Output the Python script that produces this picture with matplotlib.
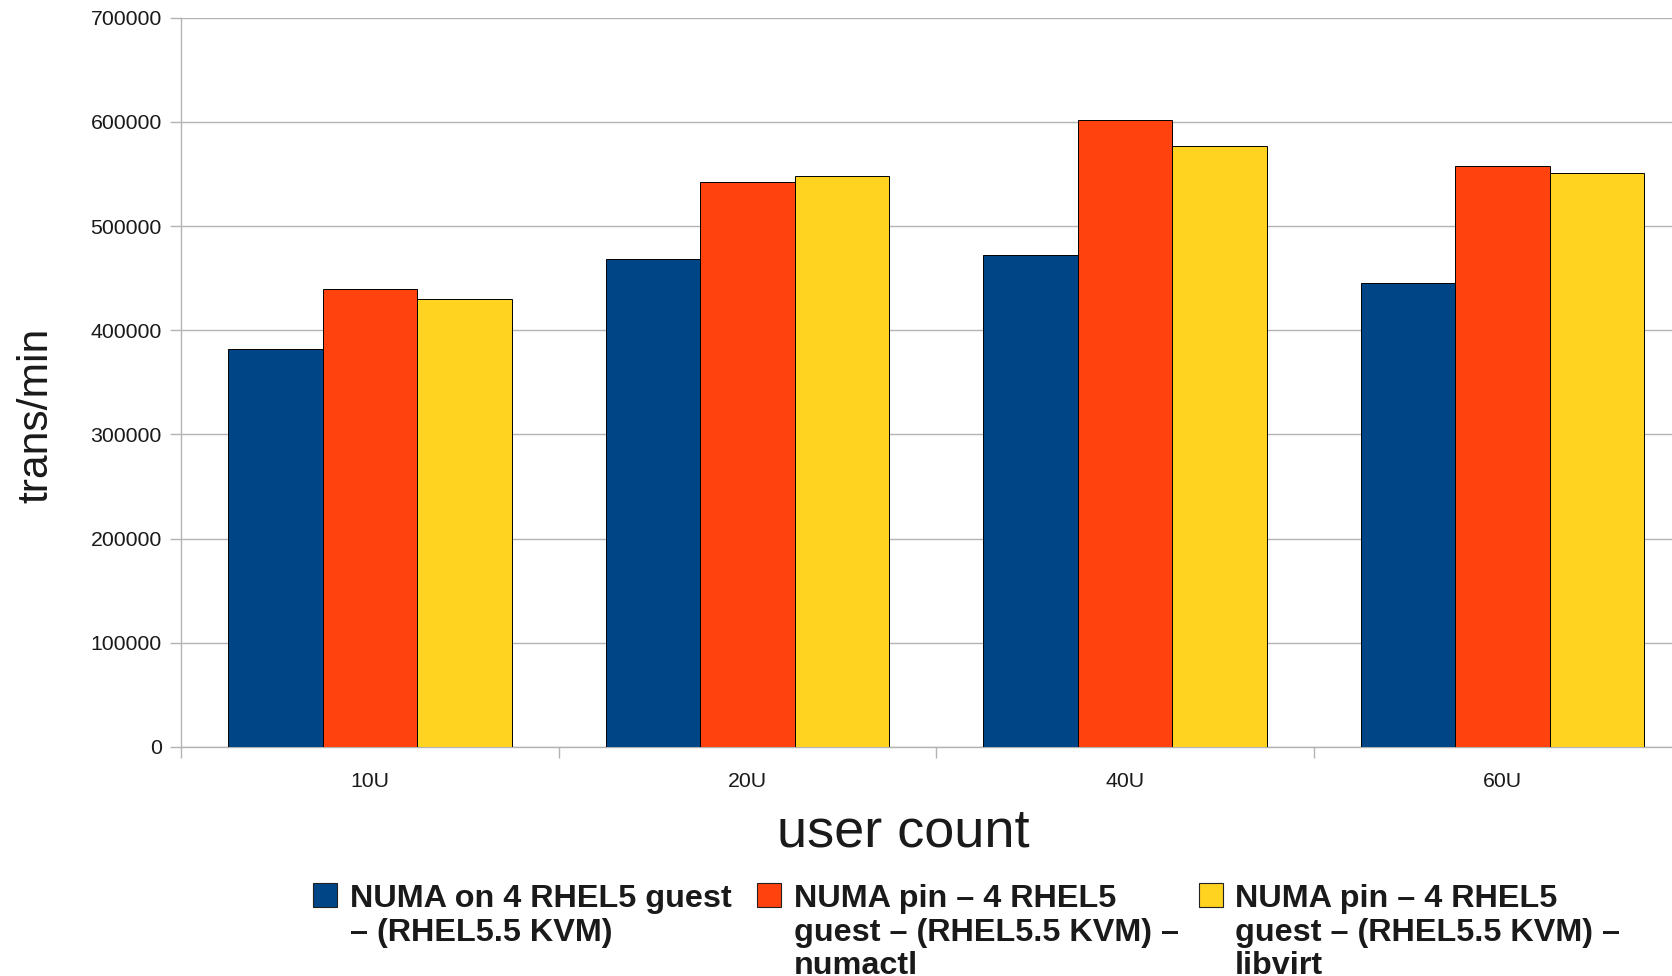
import matplotlib
matplotlib.use("Agg")
import matplotlib.pyplot as plt
from matplotlib.patches import Rectangle
import numpy as np

plt.rcParams['font.family'] = ['Liberation Sans', 'DejaVu Sans']

# ---- data -------------------------------------------------------------
categories = ["10U", "20U", "40U", "60U"]
numa_on = [382000, 468000, 472000, 445000]
numa_pin_numactl = [440000, 542000, 602000, 558000]
numa_pin_libvirt = [430000, 548000, 577000, 551000]

series_labels = [
    "NUMA on 4 RHEL5 guest\n– (RHEL5.5 KVM)",
    "NUMA pin – 4 RHEL5\nguest – (RHEL5.5 KVM) –\nnumactl",
    "NUMA pin – 4 RHEL5\nguest – (RHEL5.5 KVM) –\nlibvirt",
]
series_colors = ["#004586", "#ff420e", "#ffd320"]
y_ticks = [0, 100000, 200000, 300000, 400000, 500000, 600000, 700000]

# ---- figure -----------------------------------------------------------
W, H = 1672, 976
fig = plt.figure(figsize=(W / 100, H / 100), dpi=100)
fig.patch.set_facecolor("white")

# plot area (pixel geometry of the chart frame); right part runs past the edge
ax_left, ax_right, ax_top, ax_bottom = 181.3, 1691.3, 17.7, 747.0
ax = fig.add_axes([ax_left / W, 1 - ax_bottom / H,
                   (ax_right - ax_left) / W, (ax_bottom - ax_top) / H])

grid_col = "#b3b3b3"
text_col = "#1a1a1a"

x = np.arange(len(categories))
bw = 0.25
for i, vals in enumerate([numa_on, numa_pin_numactl, numa_pin_libvirt]):
    ax.bar(x + (i - 1) * bw, vals, width=bw, color=series_colors[i],
           edgecolor="black", linewidth=0.7, zorder=3)

ax.set_xlim(-0.5, len(categories) - 0.5)
ax.set_ylim(0, 700000)
ax.set_yticks(y_ticks)
ax.set_yticklabels([str(v) for v in y_ticks])
ax.set_xticks(x)
ax.set_xticklabels(categories)
ax.set_xticks(np.arange(len(categories)) - 0.5, minor=True)

ax.yaxis.grid(True, color=grid_col, linewidth=1.0, zorder=0)
ax.set_axisbelow(True)
for s in ["top", "right"]:
    ax.spines[s].set_visible(False)
for s in ["left", "bottom"]:
    ax.spines[s].set_color(grid_col)
    ax.spines[s].set_linewidth(1.0)

ax.tick_params(axis="y", which="major", length=8, width=1.0, color=grid_col,
               labelsize=15.3, labelcolor=text_col, pad=6.0)
ax.tick_params(axis="x", which="major", length=0, labelsize=15.3,
               labelcolor=text_col, pad=17.8)
ax.tick_params(axis="x", which="minor", length=8, width=1.0, color=grid_col)

# axis titles
fig.text(36 / W, 1 - 415.5 / H, "trans/min", rotation=90, ha="center",
         va="center", fontsize=30.7, color=text_col)
fig.text(903 / W, 1 - 846.7 / H, "user count", ha="center", va="baseline",
         fontsize=39, color=text_col)

# legend along the bottom: swatch + wrapped label, one line at a time
leg_x = [313.3, 757.0, 1198.5]
sq = 24.0
sq_top = 882.7
txt_gap = 12.5
first_baseline = 906.5
line_step = 34.0
for lx, lab, col in zip(leg_x, series_labels, series_colors):
    fig.patches.append(Rectangle((lx / W, 1 - (sq_top + sq) / H), sq / W, sq / H,
                                 transform=fig.transFigure, facecolor=col,
                                 edgecolor="#222222", linewidth=0.8))
    for k, line in enumerate(lab.split("\n")):
        fig.text((lx + sq + txt_gap) / W,
                 1 - (first_baseline + k * line_step) / H, line,
                 ha="left", va="baseline", fontsize=23.3, fontweight="bold",
                 color=text_col)

fig.savefig("out.png", dpi=100, facecolor="white")
